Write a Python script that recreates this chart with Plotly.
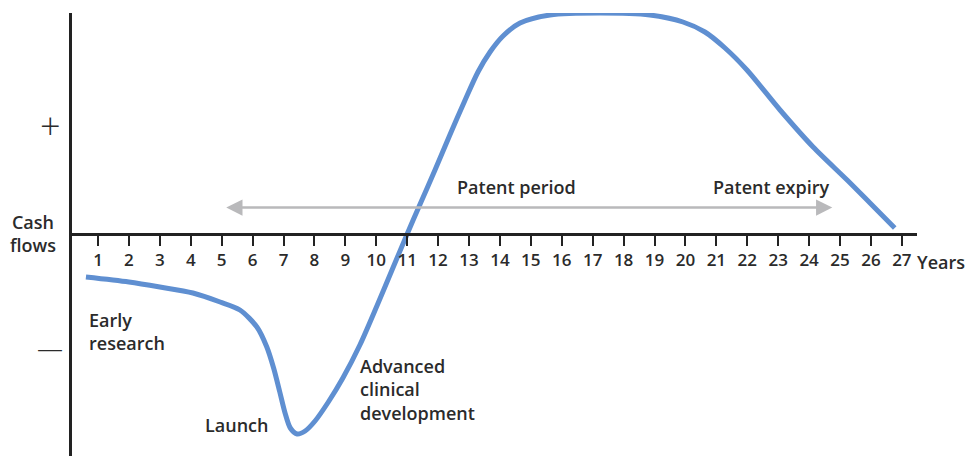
import plotly.graph_objects as go

# Curve data (years, cash flow in arbitrary units)
years = [0.61, 2.0, 3.0, 4.07, 4.95, 5.59, 6.14, 6.46, 6.68, 6.88, 7.05, 7.22, 7.44,
         7.70, 8.02, 8.45, 8.92, 9.47, 10.02, 10.51, 11.0, 11.42, 11.90, 12.38, 12.86,
         13.29, 13.68, 14.10, 14.65, 15.62, 17.24, 18.85, 19.92, 20.63, 21.28, 21.99,
         23.06, 24.13, 25.23, 25.97, 26.77]
cash = [-0.43, -0.48, -0.53, -0.59, -0.68, -0.76, -0.93, -1.13, -1.34, -1.58, -1.79, -1.94, -2.0,
        -1.97, -1.87, -1.68, -1.44, -1.11, -0.72, -0.36, 0.0, 0.30, 0.64, 0.99, 1.33,
        1.62, 1.82, 1.98, 2.11, 2.19, 2.21, 2.19, 2.12, 2.02, 1.86, 1.64,
        1.24, 0.87, 0.54, 0.31, 0.06]

tick_vals = list(range(1, 28))
tick_text = [str(v) for v in tick_vals]

patent_start = 5.1
patent_end = 24.75
arrow_level = 0.265

x_range = [0.159, 27.49]
y_range = [-2.22, 2.21]

font_family = "Open Sans"
txt_color = "#2b2b2b"

fig = go.Figure()
fig.add_trace(go.Scatter(
    x=years, y=cash, mode="lines",
    line=dict(color="#5f8fd1", width=5, shape="spline", smoothing=0.8),
    cliponaxis=False, hoverinfo="skip", showlegend=False,
))

xpos = (0 - y_range[0]) / (y_range[1] - y_range[0])

fig.update_layout(
    width=968, height=456,
    margin=dict(l=72, r=51, t=13, b=0, autoexpand=False),
    paper_bgcolor="white", plot_bgcolor="white",
    showlegend=False,
    xaxis=dict(
        range=x_range, anchor="free", position=xpos,
        showline=True, linecolor="#222222", linewidth=3,
        ticks="outside", ticklen=10, tickwidth=2, tickcolor="#222222",
        tickvals=tick_vals, ticktext=tick_text,
        tickfont=dict(family=font_family, size=17, color=txt_color, weight=600),
        showgrid=False, zeroline=False, automargin=False,
    ),
    yaxis=dict(
        range=y_range, showline=True, linecolor="#222222", linewidth=3,
        showticklabels=False, ticks="", showgrid=False, zeroline=False, automargin=False,
    ),
)

ann_font = dict(family=font_family, size=18, color=txt_color, weight=600)

annotations = [
    dict(x=14.55, y=0.47, text="Patent period", xanchor="center", yanchor="middle"),
    dict(x=22.77, y=0.47, text="Patent expiry", xanchor="center", yanchor="middle"),
    dict(x=0.65, y=-0.97, text="Early<br>research", xanchor="left", yanchor="middle", align="left"),
    dict(x=5.47, y=-1.91, text="Launch", xanchor="center", yanchor="middle"),
    dict(x=9.41, y=-1.55, text="Advanced<br>clinical<br>development", xanchor="left", yanchor="middle", align="left"),
]
for a in annotations:
    fig.add_annotation(**a, xref="x", yref="y", showarrow=False, font=ann_font)

# Labels outside the plotting area (paper coordinates)
fig.add_annotation(x=-0.0462, y=0.503, text="Cash<br>flows", xref="paper", yref="paper",
                   showarrow=False, font=ann_font, xanchor="center", yanchor="middle", align="center")
fig.add_annotation(x=1.028, y=0.438, text="Years", xref="paper", yref="paper",
                   showarrow=False, font=ann_font, xanchor="center", yanchor="middle")
fig.add_annotation(x=-0.026, y=0.747, text="+", xref="paper", yref="paper", showarrow=False,
                   font=dict(family=font_family, size=36, color=txt_color, weight=300),
                   xanchor="center", yanchor="middle")
fig.add_annotation(x=-0.026, y=0.244, text="—", xref="paper", yref="paper", showarrow=False,
                   font=dict(family=font_family, size=26, color=txt_color, weight=300),
                   xanchor="center", yanchor="middle")

# Patent period double arrow
fig.add_annotation(
    x=patent_end, y=arrow_level, ax=patent_start, ay=arrow_level,
    xref="x", yref="y", axref="x", ayref="y", text="",
    showarrow=True, arrowside="end+start", arrowhead=2, startarrowhead=2,
    arrowsize=1.3, startarrowsize=1.3, arrowwidth=2.5, arrowcolor="#b9b9bb",
)

fig.write_html("out.html",
               config={"displayModeBar": False},
               post_script="document.body.style.margin='0';document.body.style.overflow='hidden';")
